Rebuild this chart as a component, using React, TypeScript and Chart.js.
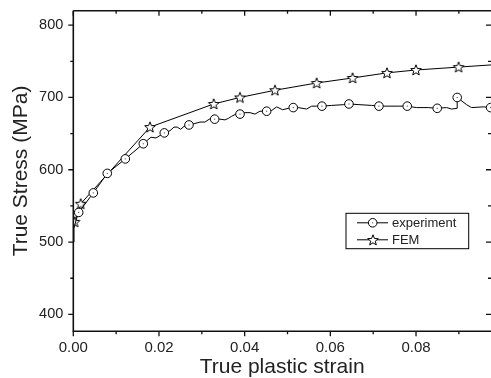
import React, { useEffect, useRef } from 'react';
import { Chart, registerables } from 'chart.js';

Chart.register(...registerables);

// ---- data ----
const expStrain = [0, 0.00016, 0.00063, 0.00126, 0.00467, 0.00793, 0.01214, 0.01634, 0.01813, 0.0193, 0.02124, 0.02257, 0.0235, 0.02427, 0.02506, 0.02584, 0.027, 0.0284, 0.02957, 0.03073, 0.03174, 0.033, 0.03424, 0.0354, 0.03617, 0.03697, 0.03797, 0.03891, 0.04007, 0.04124, 0.04241, 0.04357, 0.04513, 0.0463, 0.04747, 0.04887, 0.05018, 0.05134, 0.05251, 0.05447, 0.05564, 0.0568, 0.05804, 0.0603, 0.06301, 0.06434, 0.06691, 0.06964, 0.07134, 0.07391, 0.07624, 0.07795, 0.08014, 0.08285, 0.08495, 0.08714, 0.08831, 0.08961, 0.08961, 0.09181, 0.09297, 0.09568, 0.09741];
const expStress = [500, 519, 530, 541, 568, 595, 615, 636, 645, 644, 651, 654, 659, 659, 656, 660, 662, 664, 666, 666, 670, 670, 670, 669, 671, 674, 677, 677, 679, 679, 677, 681, 681, 682, 687, 683, 685, 686, 686, 684, 688, 688, 688, 689, 690, 691, 690, 689, 688, 688, 688, 688, 686, 686, 685, 686, 684, 685, 700, 690, 686, 687, 686];
// indices of experiment points that carry a circle marker
const expMarkerIdx = [3, 4, 5, 6, 7, 10, 16, 21, 27, 32, 37, 42, 45, 48, 51, 54, 58, 62];

const femStrain = [0.0003, 0.00173, 0.0179, 0.03277, 0.03891, 0.04707, 0.0568, 0.0652, 0.07321, 0.07998, 0.08994, 0.1];
const femStress = [528, 553, 659, 691, 700, 710, 720, 727, 734, 738, 742, 746];

const seriesLabels = ['experiment', 'FEM'];

const xMajorTicks = [0, 0.02, 0.04, 0.06, 0.08];
const xMinorTicks = [0.01, 0.03, 0.05, 0.07, 0.09];
const yMajorTicks = [400, 500, 600, 700, 800];
const yMinorTicks = [450, 550, 650, 750];

const X_MIN = 0;
const X_MAX = 0.0975;
const Y_MIN = 376.6;
const Y_MAX = 820;

const FONT = "'Liberation Sans', Arial, Helvetica, sans-serif";
const TEXT = '#222';
const CIRCLE_R = 4.3;

function makeStar(): HTMLCanvasElement {
  const c = document.createElement('canvas');
  c.width = 14; c.height = 14;
  const g = c.getContext('2d')!;
  const R = 5.6, r = 2.4, cx = 7, cy = 7.4;
  g.beginPath();
  for (let i = 0; i < 10; i++) {
    const rad = i % 2 === 0 ? R : r;
    const a = -Math.PI / 2 + (i * Math.PI) / 5;
    const px = cx + rad * Math.cos(a);
    const py = cy + rad * Math.sin(a);
    if (i === 0) g.moveTo(px, py); else g.lineTo(px, py);
  }
  g.closePath();
  g.fillStyle = '#fff';
  g.fill();
  g.lineWidth = 1;
  g.strokeStyle = '#000';
  g.stroke();
  return c;
}

function drawCircleMarker(ctx: CanvasRenderingContext2D, x: number, y: number) {
  ctx.beginPath();
  ctx.arc(x, y, CIRCLE_R, 0, Math.PI * 2);
  ctx.fillStyle = '#fff';
  ctx.fill();
  ctx.lineWidth = 1;
  ctx.strokeStyle = '#000';
  ctx.stroke();
  ctx.fillStyle = '#333';
  ctx.fillRect(x - 0.5, y - 0.5, 1, 1);
}

const zeroPad = (s: any) => {
  s.paddingTop = 0;
  s.paddingBottom = 0;
  s.paddingLeft = 0;
  s.paddingRight = 0;
};

export default function App() {
  const ref = useRef<HTMLCanvasElement | null>(null);

  useEffect(() => {
    document.body.style.margin = '0';
    const canvas = ref.current;
    if (!canvas) return;
    const star = makeStar();

    const framePlugin = {
      id: 'frame',
      afterDatasetsDraw(chart: any) {
        const { ctx, chartArea: a, scales } = chart;
        const xs = scales.x, ys = scales.y;
        ctx.save();
        // centre dots of the experiment circles
        const meta = chart.getDatasetMeta(0);
        ctx.fillStyle = '#333';
        expMarkerIdx.forEach(i => {
          const p = meta.data[i];
          if (p && p.x <= a.right + 1) ctx.fillRect(p.x - 0.5, p.y - 0.5, 1, 1);
        });
        ctx.strokeStyle = '#111';
        ctx.lineWidth = 1.6;
        ctx.beginPath();
        ctx.moveTo(a.left, a.top); ctx.lineTo(a.right, a.top);
        ctx.moveTo(a.left, a.top); ctx.lineTo(a.left, a.bottom); ctx.lineTo(a.right, a.bottom);
        ctx.stroke();
        ctx.lineWidth = 1.3;
        ctx.beginPath();
        const xt = (v: number, len: number) => {
          const p = xs.getPixelForValue(v);
          ctx.moveTo(p, a.bottom); ctx.lineTo(p, a.bottom + len);
          ctx.moveTo(p, a.top); ctx.lineTo(p, a.top + len);
        };
        const yt = (v: number, len: number) => {
          const p = ys.getPixelForValue(v);
          ctx.moveTo(a.left, p); ctx.lineTo(a.left - len, p);
          ctx.moveTo(a.right, p); ctx.lineTo(a.right - len, p);
        };
        xMajorTicks.forEach(v => xt(v, 5));
        xMinorTicks.forEach(v => xt(v, 3));
        yMajorTicks.forEach(v => yt(v, 5));
        yMinorTicks.forEach(v => yt(v, 3));
        ctx.stroke();
        ctx.restore();
      },
      afterDraw(chart: any) {
        const { ctx, chartArea: a } = chart;
        const bx = a.right - 145, by = a.top + 202.6, bw = 122.7, bh = 35.4;
        ctx.save();
        ctx.fillStyle = '#fff';
        ctx.fillRect(bx, by, bw, bh);
        ctx.strokeStyle = '#000';
        ctx.lineWidth = 1;
        ctx.strokeRect(bx, by, bw, bh);
        const rows = [by + 9.5, by + 26.5];
        rows.forEach((ry, i) => {
          ctx.beginPath();
          ctx.moveTo(bx + 11, ry); ctx.lineTo(bx + 42, ry);
          ctx.lineWidth = 1;
          ctx.strokeStyle = '#000';
          ctx.stroke();
          const mx = bx + 26.7;
          if (i === 0) drawCircleMarker(ctx, mx, ry);
          else ctx.drawImage(star, Math.round(mx - star.width / 2), Math.round(ry - star.height / 2));
          ctx.fillStyle = TEXT;
          ctx.font = `13px ${FONT}`;
          ctx.textBaseline = 'middle';
          ctx.textAlign = 'left';
          ctx.fillText(seriesLabels[i], bx + 46, ry + 0.5);
        });
        ctx.restore();
      },
    };

    const chart = new Chart(canvas, {
      type: 'line',
      data: {
        datasets: [
          {
            label: seriesLabels[0],
            data: expStrain.map((x, i) => ({ x, y: expStress[i] })),
            borderColor: '#000',
            borderWidth: 1,
            tension: 0,
            pointStyle: 'circle',
            pointBackgroundColor: '#fff',
            pointBorderColor: '#000',
            pointBorderWidth: 1,
            pointRadius: (c: any) => (expMarkerIdx.includes(c.dataIndex) ? CIRCLE_R : 0),
          },
          {
            label: seriesLabels[1],
            data: femStrain.map((x, i) => ({ x, y: femStress[i] })),
            borderColor: '#000',
            borderWidth: 1,
            tension: 0,
            pointStyle: star as any,
            pointRadius: 5,
          },
        ],
      },
      options: {
        animation: false,
        responsive: false,
        maintainAspectRatio: false,
        layout: { autoPadding: false, padding: { top: 10.7, right: 0, left: 0, bottom: 0 } },
        plugins: { legend: { display: false }, tooltip: { enabled: false } },
        scales: {
          x: {
            type: 'linear',
            min: X_MIN,
            max: X_MAX,
            afterBuildTicks: (s: any) => { s.ticks = xMajorTicks.map(v => ({ value: v })); },
            afterFit: (s: any) => { s.height = 46.7; zeroPad(s); },
            grid: { display: false, drawTicks: false },
            border: { display: false },
            ticks: {
              padding: 7.7,
              autoSkip: false,
              maxRotation: 0,
              color: TEXT,
              font: { family: FONT, size: 15 },
              callback: (v: any) => Number(v).toFixed(2),
            },
            title: {
              display: true,
              text: 'True plastic strain',
              color: TEXT,
              font: { family: FONT, size: 21, lineHeight: 1 },
              padding: { top: 0, bottom: 0.6 },
            },
          },
          y: {
            type: 'linear',
            min: Y_MIN,
            max: Y_MAX,
            afterBuildTicks: (s: any) => { s.ticks = yMajorTicks.map(v => ({ value: v })); },
            afterFit: (s: any) => { s.width = 73.3; zeroPad(s); },
            grid: { display: false, drawTicks: false },
            border: { display: false },
            ticks: {
              padding: 10,
              autoSkip: false,
              color: TEXT,
              font: { family: FONT, size: 14.5 },
              callback: (v: any) => String(v),
            },
            title: {
              display: true,
              text: 'True Stress (MPa)',
              color: TEXT,
              font: { family: FONT, size: 21, lineHeight: 1 },
              padding: { top: 10.8, bottom: 0 },
            },
          },
        },
      } as any,
      plugins: [framePlugin],
    });
    return () => chart.destroy();
  }, []);

  return (
    <canvas
      ref={ref}
      width={491}
      height={378}
      style={{ display: 'block', width: '491px', height: '378px' }}
    />
  );
}
